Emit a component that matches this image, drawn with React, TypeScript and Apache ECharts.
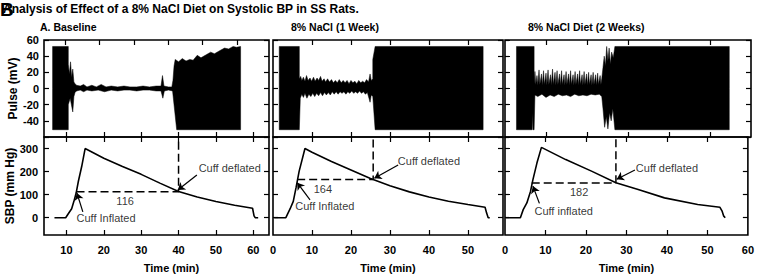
import React, { useEffect, useRef } from "react";
import * as echarts from "echarts";

// ---------------- data ----------------
const mainTitle = "Analysis of Effect of a 8% NaCl Diet on Systolic BP in SS Rats.";
const panelTitles = ["A. Baseline", "8% NaCl (1 Week)", "8% NaCl Diet (2 Weeks)"];
const xAxisName = "Time (min)";
const pulseName = "Pulse (mV)";
const sbpName = "SBP (mm Hg)";

const sbpTicks = [0, 100, 200, 300];
const timeTicks1 = [10, 20, 30, 40, 50, 60];
const timeLabels1 = [10, 20, 30, 40, 50, 60];
const topTicks1 = [10, 20, 30, 40, 50, 60];
const timeTicks2 = [10, 20, 30, 40, 50];
const timeLabels2 = [0, 10, 20, 30, 40, 50];
const timeTicks3 = [10, 20, 30, 40, 50];
const timeLabels3 = [0, 10, 20, 30, 40, 50, 60];

// Pulse trace envelopes (upper / lower), [time, mV]
const pulse1Upper = [[6.3,0],[6.3,52],[10.5,52],[10.5,30],[10.8,18],[11.1,33],[11.4,14],[11.7,24],[12.0,8],[12.3,6],[12.7,4],[13.7,3],[14.6,5],[15.5,2],[16.8,4],[18,2],[19.3,5],[20.6,2],[22,3],[23.7,2],[25.4,3],[27,2],[28.8,2],[30.5,3],[32.2,2],[34,3],[35.3,3],[35.7,16],[36.1,3],[37.3,2],[38.2,2],[38.5,10],[38.8,28],[39.1,36],[40,33],[41,37],[42,34],[43,36],[43.9,35],[45,41],[46,38],[47.5,42],[48.6,45],[49.6,43],[51.1,47],[52.3,50],[53.4,49],[54.6,52],[55.5,51],[56.6,52],[56.6,0]];
const pulse1Lower = [[6.3,0],[6.3,-51],[10.5,-51],[10.5,-20],[11.0,-12],[11.7,-29],[12.0,-10],[12.3,-5],[12.7,-3],[13.7,-2],[14.6,-4],[15.5,-2],[16.8,-3],[18.5,-2],[20.2,-4],[22,-2],[23.7,-3],[25.4,-2],[27,-2],[28.8,-3],[30.5,-2],[32.2,-2],[34,-3],[35.3,-3],[35.8,-12],[36.2,-3],[37.3,-2],[38.4,-3],[39.5,-51],[56.6,-51],[56.6,0]];

const pulse2Upper = [[1.6,0],[1.6,52],[6.75,52],[6.75,12],[7.1,15],[7.4,10],[7.8,14],[8.2,9],[8.6,16],[9.0,10],[9.5,13],[9.9,9],[10.4,14],[10.8,9],[11.3,13],[11.7,10],[12.2,15],[12.6,9],[13.1,12],[13.5,8],[14.0,12],[14.5,8],[15.0,11],[15.5,7],[16.0,10],[16.5,7],[17.0,11],[17.5,7],[18.0,10],[18.5,7],[19.0,10],[19.5,6],[20.0,10],[20.5,7],[21.0,9],[21.5,6],[22.0,10],[22.5,7],[23.0,9],[23.5,7],[24.0,11],[24.5,8],[24.9,18],[25.2,10],[25.6,12],[25.6,36],[26.2,52],[53.9,52],[53.9,0]];
const pulse2Lower = [[1.6,0],[1.6,-51],[6.75,-51],[7.0,-12],[7.4,-7],[7.8,-11],[8.2,-6],[8.7,-12],[9.2,-7],[9.7,-10],[10.2,-6],[10.7,-10],[11.2,-6],[11.7,-9],[12.2,-5],[12.7,-9],[13.2,-5],[13.7,-8],[14.2,-5],[14.7,-8],[15.2,-4],[15.7,-7],[16.2,-4],[16.7,-7],[17.2,-4],[17.7,-6],[18.2,-4],[18.7,-7],[19.2,-4],[19.7,-6],[20.2,-3],[20.7,-6],[21.2,-4],[21.7,-6],[22.2,-3],[22.7,-6],[23.2,-4],[23.7,-7],[24.2,-5],[24.9,-17],[25.2,-8],[25.6,-10],[26.2,-51],[53.9,-51],[53.9,0]];

const pulse3Upper = [[2.8,0],[2.8,52],[7.1,52],[7.1,6],[7.3,21],[7.5,5],[7.8,16],[8.0,4],[8.3,23],[8.5,5],[8.9,18],[9.1,4],[9.4,22],[9.6,5],[10.0,19],[10.2,4],[10.5,23],[10.7,5],[11.1,17],[11.3,4],[11.6,24],[11.8,5],[12.2,20],[12.4,4],[12.7,22],[12.9,5],[13.3,18],[13.5,4],[13.8,22],[14.0,5],[14.4,17],[14.6,4],[14.9,21],[15.1,5],[15.5,18],[15.7,4],[16.0,22],[16.2,5],[16.6,17],[16.8,4],[17.1,21],[17.3,5],[17.7,18],[17.9,4],[18.2,22],[18.4,5],[18.8,17],[19.0,4],[19.3,21],[19.5,5],[19.9,18],[20.1,4],[20.4,20],[20.6,5],[21.0,17],[21.2,4],[21.5,20],[21.7,5],[22.1,17],[22.3,4],[22.6,19],[22.8,5],[23.2,16],[23.4,5],[23.6,12],[23.9,26],[24.2,40],[24.5,28],[24.8,52],[25.1,34],[25.4,50],[25.7,30],[26.0,45],[26.4,38],[26.8,52],[54.7,52],[54.7,0]];
const pulse3Lower = [[2.8,0],[2.8,-51],[6.6,-51],[6.7,-30],[6.8,-51],[7.1,-51],[7.3,-8],[8,-10],[9,-7],[10,-11],[11,-8],[12,-10],[13,-7],[14,-9],[15,-8],[16,-10],[17,-7],[18,-9],[19,-8],[20,-9],[21,-7],[22,-8],[23,-7],[23.6,-10],[23.9,-25],[24.3,-48],[24.7,-35],[25.1,-50],[25.5,-30],[25.9,-40],[26.3,-25],[26.8,-51],[54.7,-51],[54.7,0]];

// Cuff pressure (SBP) traces, [time, mm Hg]
const sbp1 = [[6.8,0],[9.8,0],[10.5,17],[11.4,39],[12,71],[12.6,107],[13.2,158],[14.1,223],[15,300],[20,258],[25,222],[30,188],[35,150],[40,114],[45,90],[50,70],[55,54],[59.8,41],[60.2,8],[60.5,0],[61.3,0]];
const sbp2 = [[0.3,0],[3.3,0],[4.4,39],[5.2,71],[5.9,129],[6.7,201],[8.2,300],[10,284],[15,244],[20,207],[25,170],[30,139],[35,112],[40,90],[45,71],[50,57],[54.4,45],[54.8,20],[55.2,0],[55.6,0]];
const sbp3 = [[0.2,0],[3.8,0],[4.5,35],[5.4,64],[6.3,114],[6.9,165],[7.9,238],[9.0,305],[15,252],[21.5,201],[27.4,152],[32.9,122],[39.4,86],[47.6,57],[53.1,45],[53.6,30],[54.0,8],[54.4,0]];

// SBP read-out (dashed) lines
const cuff1 = [[12.7,113],[40,113],[40,350]];
const cuff2 = [[6.2,166],[25.7,166],[25.7,350]];
const cuff3 = [[6.6,150],[27.4,150],[27.4,350]];

// annotations
const notes1 = [{ name: "Cuff deflated", value: [53.7, 215] }, { name: "Cuff Inflated", value: [20.6, -1] }, { name: "116", value: [25.7, 72] }];
const notes2 = [{ name: "Cuff deflated", value: [40, 246] }, { name: "Cuff Inflated", value: [13.3, 51] }, { name: "164", value: [12.8, 124] }];
const notes3 = [{ name: "Cuff deflated", value: [40, 214] }, { name: "Cuff inflated", value: [14.5, 29] }, { name: "182", value: [18.3, 110] }];
const arrows1 = [[[44.9,185],[39.8,120]], [[14.4,25],[12.8,107]]];
const arrows2 = [[[32.1,229],[26,171]], [[9.5,77],[6.2,152]]];
const arrows3 = [[[32.1,207],[27.6,167]], [[8.5,62],[6.9,137]]];

// ---------------- layout / styles ----------------
const FONT = "'Liberation Sans', Arial, Helvetica, sans-serif";
const BLACK = "#000";

const cols = [
  { left: 44, width: 225, xMin: 4, xMax: 64.2, ticks: timeTicks1, labels: timeLabels1, topMin: 3.9, topMax: 69.3, topTicks: topTicks1,
    up: pulse1Upper, lo: pulse1Lower, sbp: sbp1, cuff: cuff1, notes: notes1, arrows: arrows1, namePad: [0, 0, 0, 30], titleLeft: 40 },
  { left: 273, width: 230, xMin: 0, xMax: 59, ticks: timeTicks2, labels: timeLabels2, topMin: 0, topMax: 59, topTicks: timeTicks2,
    up: pulse2Upper, lo: pulse2Lower, sbp: sbp2, cuff: cuff2, notes: notes2, arrows: arrows2, namePad: 0, titleLeft: 291 },
  { left: 505, width: 246, xMin: 0, xMax: 60, ticks: timeTicks3, labels: timeLabels3, topMin: 0, topMax: 60, topTicks: timeTicks3,
    up: pulse3Upper, lo: pulse3Lower, sbp: sbp3, cuff: cuff3, notes: notes3, arrows: arrows3, namePad: 0, titleLeft: 528 },
];

const tickStyle = { color: BLACK, width: 1.2 };
const labelStyle = { color: BLACK, fontSize: 11, fontWeight: "bold", fontFamily: FONT };

function mkX(gridIndex: number, position: string, min: number, max: number, ticks: number[], labels: number[] | null, name?: string, namePad?: any) {
  return {
    type: "value", gridIndex, position, min, max,
    axisLine: { show: false, onZero: false },
    axisTick: { show: true, inside: true, length: 5, customValues: ticks, lineStyle: tickStyle },
    axisLabel: labels ? { show: true, customValues: labels, margin: 9, ...labelStyle } : { show: false },
    splitLine: { show: false },
    name: name || "", nameLocation: "middle", nameGap: 27,
    nameTextStyle: { ...labelStyle, padding: namePad || 0 },
  };
}

function mkPulseY(gridIndex: number, position: string, showLabels: boolean, name?: string) {
  return {
    type: "value", gridIndex, position, min: -60, max: 60, interval: 20,
    axisLine: { show: false, onZero: false },
    axisTick: { show: true, inside: true, length: 5, lineStyle: tickStyle },
    axisLabel: showLabels ? { show: true, margin: 5, ...labelStyle, formatter: (v: number) => (v === -60 ? "" : String(v)) } : { show: false },
    splitLine: { show: false },
    name: name || "", nameLocation: "middle", nameGap: 24, nameRotate: 90,
    nameTextStyle: { ...labelStyle, fontSize: 12 },
  };
}

function mkSbpY(gridIndex: number, position: string, showLabels: boolean, name?: string) {
  return {
    type: "value", gridIndex, position, min: -75, max: 350,
    axisLine: { show: false, onZero: false },
    axisTick: { show: true, inside: true, length: 5, customValues: sbpTicks, lineStyle: tickStyle },
    axisLabel: showLabels ? { show: true, margin: 6, customValues: sbpTicks, ...labelStyle } : { show: false },
    splitLine: { show: false },
    name: name || "", nameLocation: "middle", nameGap: 24, nameRotate: 90,
    nameTextStyle: { ...labelStyle, fontSize: 12 },
  };
}

export default function App() {
  const ref = useRef<HTMLDivElement>(null);
  useEffect(() => {
    if (!ref.current) return;
    const chart = echarts.init(ref.current, null, { renderer: "svg" });
    const grid: any[] = [];
    const xAxis: any[] = [];
    const yAxis: any[] = [];
    const series: any[] = [];
    const titles: any[] = [
      { text: mainTitle, left: 3, top: 3, padding: 0, textStyle: { color: BLACK, fontSize: 12, fontWeight: "bold", fontFamily: FONT } },
    ];

    cols.forEach((c, ci) => {
      const box = { show: true, borderColor: BLACK, borderWidth: 1.6, backgroundColor: "transparent" };
      grid.push({ left: c.left, width: c.width, top: 40, height: 97, ...box });
      grid.push({ left: c.left, width: c.width, top: 137, height: 98, ...box });
      const gT = ci * 2, gB = ci * 2 + 1;
      xAxis.push(mkX(gT, "bottom", c.xMin, c.xMax, c.ticks, null));
      xAxis.push(mkX(gT, "top", c.topMin, c.topMax, c.topTicks, null));
      xAxis.push(mkX(gB, "bottom", c.xMin, c.xMax, c.ticks, c.labels, xAxisName, c.namePad));
      xAxis.push(mkX(gB, "top", c.xMin, c.xMax, c.ticks, null));
      yAxis.push(mkPulseY(gT, "left", ci === 0, ci === 0 ? pulseName : ""));
      yAxis.push(mkPulseY(gT, "right", false));
      yAxis.push(mkSbpY(gB, "left", ci === 0, ci === 0 ? sbpName : ""));
      yAxis.push(mkSbpY(gB, "right", false));
      const xT = ci * 4, xB = ci * 4 + 2, yT = ci * 4, yB = ci * 4 + 2;

      // pulse trace: one filled polygon between the upper and lower envelopes
      const up = c.up, lo = c.lo;
      series.push({
        type: "custom", xAxisIndex: xT, yAxisIndex: yT, data: [0], silent: true, clip: true,
        renderItem: (_p: any, api: any) => {
          const pts = up.concat(lo.slice().reverse()).map((p) => api.coord(p));
          return { type: "polygon", shape: { points: pts }, style: { fill: BLACK, stroke: BLACK, lineWidth: 0.5 } };
        },
      });

      series.push({
        type: "line", xAxisIndex: xB, yAxisIndex: yB, data: c.sbp, symbol: "none", silent: true,
        lineStyle: { color: BLACK, width: 1.6 },
        markLine: {
          silent: true, symbol: ["none", "arrow"], symbolSize: 7, animation: false,
          lineStyle: { color: BLACK, width: 1.2, type: "solid" }, label: { show: false },
          data: c.arrows.map((a) => [{ coord: a[0] }, { coord: a[1] }]),
        },
      });
      series.push({
        type: "line", xAxisIndex: xB, yAxisIndex: yB, data: c.cuff, symbol: "none", silent: true,
        lineStyle: { color: BLACK, width: 1.5, type: [8, 4] },
      });
      series.push({
        type: "scatter", xAxisIndex: xB, yAxisIndex: yB, data: c.notes, symbol: "circle", symbolSize: 1, silent: true,
        itemStyle: { color: "rgba(0,0,0,0)" },
        label: { show: true, position: "inside", formatter: "{b}", color: BLACK, fontSize: 11, fontFamily: FONT },
      });

      titles.push({ text: panelTitles[ci], left: c.titleLeft, top: 21, padding: 0,
        textStyle: { color: BLACK, fontSize: 10.5, fontWeight: "bold", fontFamily: FONT } });
    });

    chart.setOption({
      animation: false,
      backgroundColor: "#fff",
      title: titles,
      grid, xAxis, yAxis, series,
      graphic: [
        { type: "text", left: 0, top: 0, z: 100, style: { text: "B", fill: BLACK, font: "bold 19px 'Liberation Sans', Arial, sans-serif" } },
      ],
    });
    return () => chart.dispose();
  }, []);
  return <div ref={ref} style={{ position: "absolute", left: 0, top: 0, width: 757, height: 279 }} />;
}
